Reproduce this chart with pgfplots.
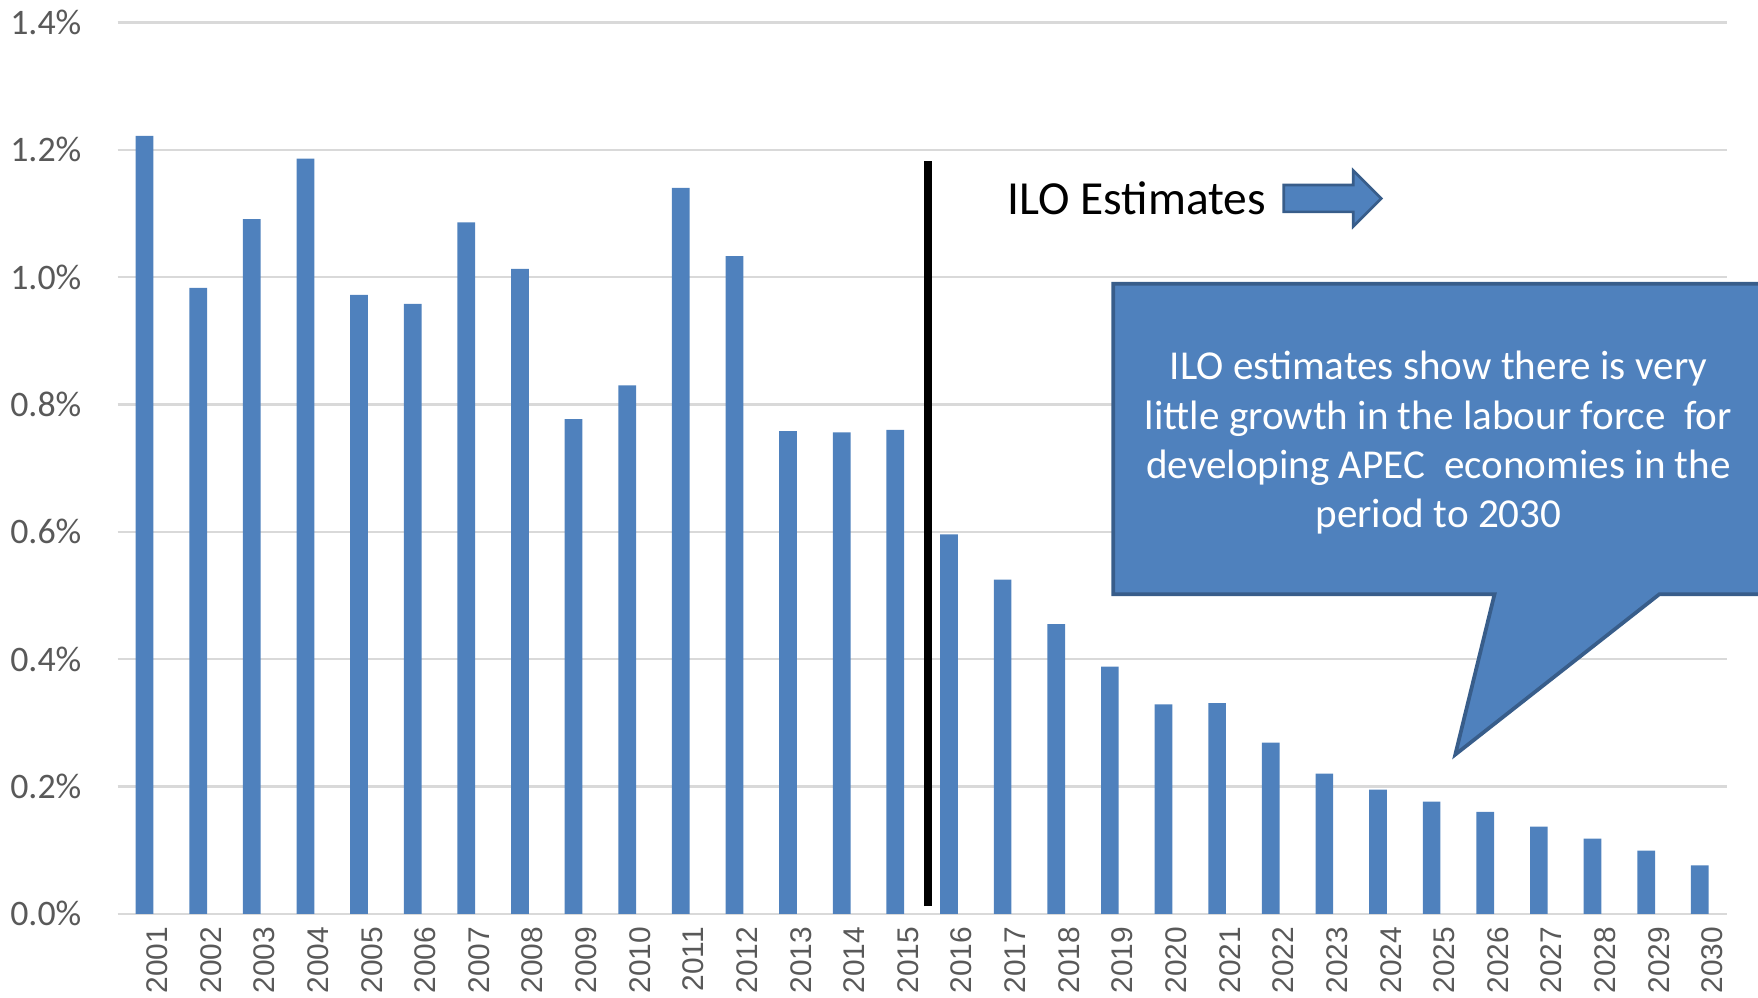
\documentclass[border=0pt]{standalone}
\usepackage{pgfplots}
\pgfplotsset{compat=1.18}
\usepackage{fontspec}
\setmainfont{Carlito}
\newfontfamily\arialfont{Liberation Sans}
\definecolor{barblue}{HTML}{4F81BD}
\definecolor{darkblue}{HTML}{385D8A}
\definecolor{gridgray}{HTML}{D9D9D9}
\definecolor{labgray}{HTML}{595959}
\begin{document}
\begin{tikzpicture}
\begin{axis}[
  at={(0,0)}, anchor=south west,
  scale only axis, width=430.5pt, height=238.5pt,
  xmin=-0.5, xmax=29.5, ymin=0, ymax=1.4,
  ybar, bar width=0.33, bar shift=0pt,
  axis line style={draw=none},
  ymajorgrids, grid style={gridgray, line width=0.6pt},
  major tick length=0pt,
  xtick={0,1,2,3,4,5,6,7,8,9,10,11,12,13,14,15,16,17,18,19,20,21,22,23,24,25,26,27,28,29},
  xticklabel={\arialfont\fontsize{8}{9}\selectfont\pgfmathparse{int(round(\tick)+2001)}\pgfmathresult},
  ytick={0,0.2,0.4,0.6,0.8,1.0,1.2,1.4},
  yticklabels={0.0\%,0.2\%,0.4\%,0.6\%,0.8\%,1.0\%,1.2\%,1.4\%},
  x tick label style={rotate=90, anchor=east, yshift=-3.4pt, text=labgray},
  y tick label style={anchor=east, xshift=-6.2pt, font=\fontsize{9.6}{11}\selectfont, text=labgray},
]
\addplot[fill=barblue, draw=none] coordinates {
(0,1.222) (1,0.983) (2,1.091) (3,1.186) (4,0.972) (5,0.958) (6,1.086) (7,1.013)
(8,0.777) (9,0.830) (10,1.140) (11,1.033) (12,0.758) (13,0.756) (14,0.760)
(15,0.596) (16,0.525) (17,0.455) (18,0.388) (19,0.329) (20,0.331) (21,0.269)
(22,0.220) (23,0.195) (24,0.176) (25,0.160) (26,0.137) (27,0.118) (28,0.099) (29,0.076)
};
\draw[line width=2.1pt, black] (axis cs:14.61,0.012) -- (axis cs:14.61,1.182);
\end{axis}
\begin{scope}[shift={(-31.5pt,244.5pt)}, x=0.3pt, y=-0.3pt]
\draw[fill=barblue, draw=darkblue, line width=1pt, line join=miter]
  (1620,253) -- (993,253) -- (993,530) -- (1333,530) -- (1298,673) -- (1480,530) -- (1620,530);
\node[text=white, align=center, font=\fontsize{11}{13.2}\selectfont] at (1283,395)
  {ILO estimates show there is very\\little growth in the labour force~ for\\developing APEC~ economies in the\\period to 2030};
\node[anchor=west, inner sep=0pt, font=\fontsize{12.7}{15}\selectfont] at (898,177) {ILO Estimates};
\draw[fill=barblue, draw=darkblue, line width=0.7pt, line join=miter]
  (1145,165) -- (1207,165) -- (1207,152) -- (1232,177) -- (1207,202) -- (1207,189) -- (1145,189) -- cycle;
\pgfresetboundingbox
\path (0,0) rectangle (1568,890);
\end{scope}
\end{tikzpicture}
\end{document}
